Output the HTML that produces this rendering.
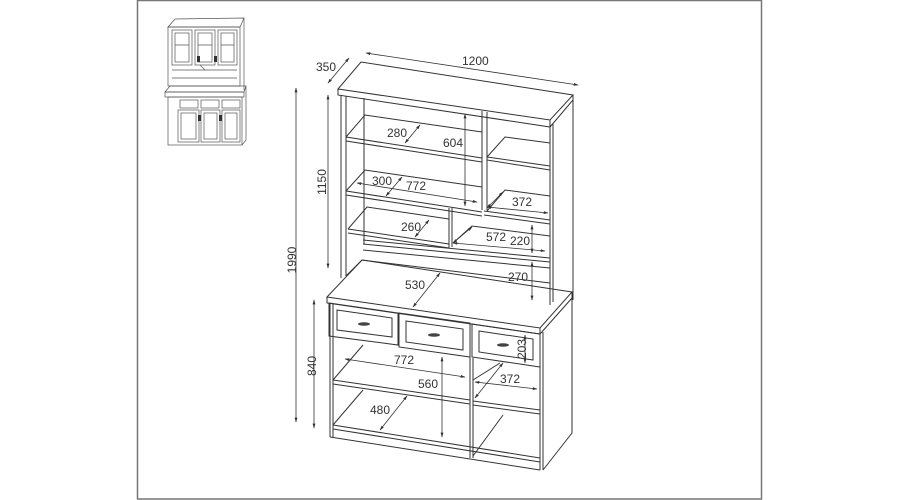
<!DOCTYPE html>
<html><head><meta charset="utf-8"><style>
html,body{margin:0;padding:0;background:#fff}
svg{display:block}
text{font-family:"Liberation Sans",sans-serif;font-size:12px;fill:#333}
</style></head><body>
<svg width="900" height="500" viewBox="0 0 900 500" xmlns="http://www.w3.org/2000/svg">
<defs>
<marker id="a" viewBox="0 0 10 10" refX="9" refY="5" markerWidth="6" markerHeight="6" orient="auto-start-reverse"><path d="M0,2 L10,5 L0,8 z" fill="#333"/></marker>
</defs>
<rect x="137.5" y="0.5" width="624" height="498.5" fill="none" stroke="#777" stroke-width="1.5"/>

<!-- thumbnail -->
<g fill="none" stroke="#555" stroke-width="0.7">
<path d="M168,27 L175,19 L244,18 L240,27 Z"/>
<path d="M168,27 L240,27 L240,86 L168,86 Z"/>
<path d="M244,18 L244,90"/>
<rect x="172" y="30" width="20" height="35"/><rect x="195" y="30" width="20" height="35"/><rect x="218" y="30" width="19" height="35"/>
<rect x="175" y="33" width="14" height="29"/><rect x="198" y="33" width="14" height="29"/><rect x="221" y="33" width="13" height="29"/>
<path d="M175,45 L189,45 M198,45 L212,45 M221,45 L234,45"/>
<path d="M172,70 L237,70 M172,78 L237,78 M200,65 L205,70"/>
<path d="M165,92 L170,86 L246,86 L244,92 Z"/>
<rect x="165" y="92" width="79" height="5"/>
<rect x="168" y="97" width="74" height="48"/>
<rect x="180" y="100" width="18" height="8"/><rect x="201" y="100" width="18" height="8"/><rect x="222" y="100" width="18" height="8"/>
<rect x="178" y="110" width="21" height="32"/><rect x="201" y="110" width="19" height="32"/><rect x="222" y="110" width="18" height="32"/>
<rect x="181" y="113" width="15" height="26"/><rect x="204" y="113" width="13" height="26"/><rect x="225" y="113" width="12" height="26"/>
<path d="M246,86 L246,140 L242,145"/>
</g>
<g fill="#333"><rect x="197" y="56" width="3" height="6"/><rect x="214" y="56" width="3" height="6"/><rect x="198" y="115" width="3" height="6"/><rect x="219" y="115" width="3" height="6"/></g>

<!-- main drawing -->
<g fill="none" stroke="#333" stroke-width="1">
<path d="M338,89 L361,62 L573,95 L550,120 Z"/>
<path d="M338,89 L338,95 L550,127 L550,120"/>
<path d="M550,127 L573,100 L573,95"/>
<path d="M341,95 L341,278 M346,96 L346,276"/>
<path d="M573,100 L573,300"/>
<path d="M550,127 L550,305 M553,124 L553,302"/>
<path d="M364,98 L364,244"/>
<path d="M482,111 L482,210 M487,112 L487,210"/>
<path d="M346,137 L365,115 L482,132"/>
<path d="M346,137 L482,158 M346,141 L482,162"/>
<path d="M346,191 L365,170 L482,187"/>
<path d="M346,191 L482,212 M346,195 L482,216"/>
<path d="M348,229 L367,207 L449,219"/>
<path d="M348,229 L449,244 M348,233 L449,248"/>
<path d="M449,208 L449,248 M452,208 L452,247"/>
<path d="M487,157 L505,137 L550,143"/>
<path d="M487,157 L550,166 M487,160 L550,170"/>
<path d="M484,211 L550,220 M484,215 L550,224"/>
<path d="M487,211 L505,190 L550,196"/>
<path d="M453,243 L472,226 L550,236"/>
<path d="M363,240 L550,258 M363,244 L550,262 M363,250 L550,268"/>
<path d="M346,276 L362,260 L550,283"/>
<path d="M327,297 L362,260 L572,292 L540,328 Z"/>
<path d="M327,297 L327,303 L540,334 L540,328"/>
<path d="M540,334 L572,298 L572,292"/>
<path d="M330,303 L330,437 M333,304 L333,437"/>
<path d="M540,334 L540,470 M543,332 L543,470"/>
<path d="M572,298 L572,433 L543,470"/>
<path d="M329,303 L398,313 L398,345 L329,336 Z"/>
<path d="M337,310 L392,318 L392,337 L337,330 Z"/>
<path d="M399,313 L470,323 L470,357 L399,347 Z"/>
<path d="M406,321 L463,329 L463,350 L406,342 Z"/>
<path d="M472,324 L540,334 L540,367 L472,357 Z"/>
<path d="M479,331 L533,339 L533,360 L479,352 Z"/>
<path d="M470,357 L470,458 M473,358 L473,458"/>
<path d="M333,380 L363,345"/>
<path d="M333,380 L470,400 M333,384 L470,404"/>
<path d="M473,380 L500,363"/>
<path d="M473,401 L540,410 M473,405 L540,414"/>
<path d="M333,425 L363,390"/>
<path d="M473,456 L503,415"/>
<path d="M333,425 L540,458 M333,429 L540,462"/>
<path d="M330,437 L540,470"/>
</g>
<g fill="#444"><ellipse cx="364" cy="324" rx="6" ry="1.8"/><ellipse cx="434" cy="335" rx="6" ry="1.8"/><ellipse cx="503" cy="345" rx="6" ry="1.8"/></g>

<g fill="none" stroke="#333" stroke-width="0.8" marker-start="url(#a)" marker-end="url(#a)">
<path d="M366,53 L578,85"/>
<path d="M328,83 L349,58"/>
<path d="M328,95 L328,268"/>
<path d="M296,88 L296,422"/>
<path d="M314,300 L314,428"/>
<path d="M405,143 L420,125"/>
<path d="M465,114 L465,206"/>
<path d="M386,196 L402,177"/>
<path d="M357,183 L477,202"/>
<path d="M487,207 L548,213"/>
<path d="M487,208 L503,192"/>
<path d="M415,237 L429,220"/>
<path d="M453,243 L545,251"/>
<path d="M453,243 L472,227"/>
<path d="M532,225 L532,253"/>
<path d="M532,262 L532,300"/>
<path d="M413,307 L440,273"/>
<path d="M525,335 L525,363"/>
<path d="M345,359 L465,377"/>
<path d="M442,357 L442,437"/>
<path d="M475,382 L537,389"/>
<path d="M475,398 L503,363"/>
<path d="M380,430 L407,396"/>
</g>

<text x="462" y="65">1200</text>
<text x="316" y="71">350</text>
<text x="326" y="182" transform="rotate(-90 326 182)" text-anchor="middle">1150</text>
<text x="296" y="260" transform="rotate(-90 296 260)" text-anchor="middle">1990</text>
<text x="316" y="366" transform="rotate(-90 316 366)" text-anchor="middle">840</text>
<text x="387" y="137">280</text>
<text x="443" y="147">604</text>
<text x="372" y="185">300</text>
<text x="406" y="190">772</text>
<text x="512" y="206">372</text>
<text x="401" y="231">260</text>
<text x="486" y="241">572</text>
<text x="510" y="245">220</text>
<text x="508" y="281">270</text>
<text x="405" y="289">530</text>
<text x="526" y="349" transform="rotate(-90 526 349)" text-anchor="middle">203</text>
<text x="394" y="364">772</text>
<text x="418" y="388">560</text>
<text x="500" y="383">372</text>
<text x="370" y="414">480</text>
</svg>
</body></html>
